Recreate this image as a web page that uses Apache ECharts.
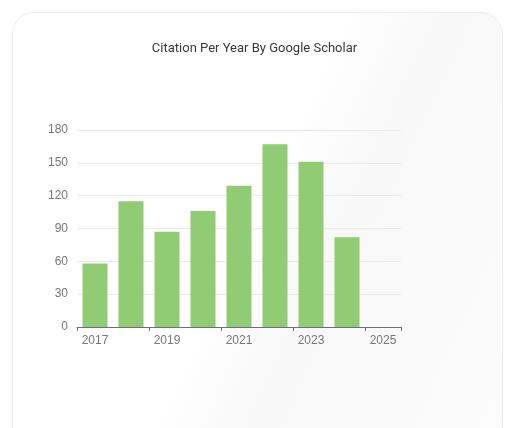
<!DOCTYPE html>
<html>
<head>
<meta charset="utf-8">
<title>Citation Per Year</title>
<script src="https://cdn.jsdelivr.net/npm/echarts@6/dist/echarts.min.js"></script>
<style>
    html, body {
        margin: 0;
        padding: 0;
        background: #fff;
    }
    .card {
        position: absolute;
        left: 12px;
        top: 12px;
        width: 489px;
        height: 440px;
        border: 1px solid #ececec;
        border-radius: 22px;
        background: linear-gradient(115deg, #ffffff 0%, #ffffff 48%, #f8f8f8 62%, #fcfcfc 100%);
    }
    #main {
        position: absolute;
        left: 0;
        top: 0;
        width: 509px;
        height: 428px;
    }
</style>
</head>
<body>
<div class="card"></div>
<div id="main"></div>
<script>
var years = ['2017', '2018', '2019', '2020', '2021', '2022', '2023', '2024', '2025'];
var citations = [58, 115, 87, 106, 129, 167, 151, 82, 0];
var yTicks = [0, 30, 60, 90, 120, 150, 180];

var myChart = echarts.init(document.getElementById('main'));

var option = {
    title: {
        text: 'Citation Per Year By Google Scholar',
        left: 'center',
        top: 37,
        textStyle: {
            fontFamily: 'Roboto',
            fontSize: 13,
            fontWeight: 'normal',
            color: '#3a3a3a'
        }
    },
    grid: {
        left: 77,
        right: 108,
        top: 130,
        bottom: 101
    },
    xAxis: {
        type: 'category',
        data: years,
        axisLine: {lineStyle: {color: '#6E7079'}},
        axisTick: {show: true, length: 4, interval: 1, lineStyle: {color: '#6E7079'}},
        axisLabel: {
            interval: 1,
            color: '#777',
            fontSize: 12,
            margin: 8
        }
    },
    yAxis: {
        type: 'value',
        min: yTicks[0],
        max: yTicks[yTicks.length - 1],
        interval: yTicks[1] - yTicks[0],
        axisLabel: {color: '#777', fontSize: 12, margin: 9},
        splitLine: {lineStyle: {color: '#E9E9E9'}}
    },
    series: [
        {
            name: 'Citations',
            type: 'bar',
            barWidth: 25,
            itemStyle: {color: '#91cc75'},
            data: citations
        }
    ]
};

myChart.setOption(option);
window.onresize = myChart.resize;
</script>
</body>
</html>
